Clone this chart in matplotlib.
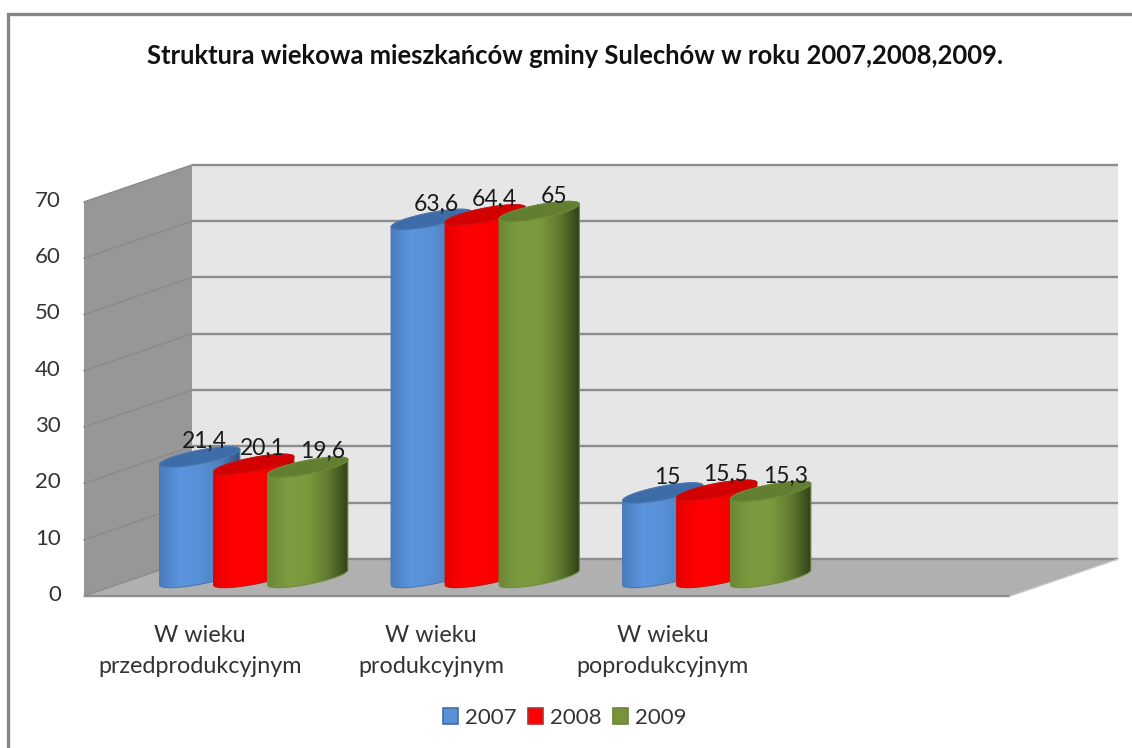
# -*- coding: utf-8 -*-
import numpy as np
import matplotlib
matplotlib.use('Agg')
import matplotlib.pyplot as plt
from matplotlib.patches import Polygon, Patch
from matplotlib.colors import LinearSegmentedColormap

plt.rcParams['font.family'] = ['Lato', 'DejaVu Sans']

title = 'Struktura wiekowa mieszkańców gminy Sulechów w roku 2007,2008,2009.'
categories = ['W wieku\nprzedprodukcyjnym', 'W wieku\nprodukcyjnym', 'W wieku\npoprodukcyjnym']
years = ['2007', '2008', '2009']
v2007 = [21.4, 63.6, 15]
v2008 = [20.1, 64.4, 15.5]
v2009 = [19.6, 65, 15.3]
yticks = [0, 10, 20, 30, 40, 50, 60, 70]
n_slots = 4   # excel left an empty 4th category

W, H = 1132, 748
# scale: pixels per category / per value, front plane
px_cat = 231.5
px_val = 5.63
x0_px = 199.75
y0_px = 596

fig = plt.figure(figsize=(W / 100, H / 100), dpi=100, facecolor='white')
ax = fig.add_axes([0, 0, 1, 1])
ax.set_xlim(-x0_px / px_cat, (W - x0_px) / px_cat)
ax.set_ylim((y0_px - H) / px_val, y0_px / px_val)
ax.axis('off')

# depth of the box, in data units
dep_x = 108 / px_cat
dep_y = 37 / px_val
left, right = -0.5, n_slots - 0.5
top = yticks[-1]
grid_c = '#8c8c8c'


def px_x(p):
    return p / px_cat


def px_y(p):
    return p / px_val


# frame of the chart
ax.plot([px_x(8) + ax.get_xlim()[0], px_x(8) + ax.get_xlim()[0], ax.get_xlim()[1]],
        [ax.get_ylim()[0], ax.get_ylim()[1] - px_y(14), ax.get_ylim()[1] - px_y(14)],
        color='#868686', lw=2.4, solid_joinstyle='miter', zorder=1)

# walls
ax.add_patch(Polygon([(left + dep_x, dep_y), (right + dep_x, dep_y),
                      (right + dep_x, top + dep_y), (left + dep_x, top + dep_y)],
                     fc='#e6e6e6', ec='none', zorder=1))
ax.add_patch(Polygon([(left, 0), (left + dep_x, dep_y), (left + dep_x, top + dep_y), (left, top)],
                     fc='#979797', ec='none', zorder=1))
ax.add_patch(Polygon([(left, 0), (left + dep_x, dep_y), (right + dep_x, dep_y), (right, 0)],
                     fc='#b0b0b0', ec='none', zorder=1))
for t in yticks:
    ax.plot([left + dep_x, right + dep_x], [t + dep_y, t + dep_y], color=grid_c, lw=1.7,
            solid_capstyle='butt', zorder=2)
    ax.plot([left, left + dep_x], [t, t + dep_y], color='#8a8a8a', lw=1.0, zorder=2)
    ax.text(px_x(61) + ax.get_xlim()[0], t + px_y(1), str(t), ha='right', va='center',
            fontsize=16, color='#333333', zorder=8)
ax.plot([left, right], [0, 0], color='#8f8f8f', lw=1.7, solid_capstyle='butt', zorder=2)
ax.plot([right, right + dep_x], [0, dep_y], color='#c4c4c4', lw=1, zorder=2)

# cylinders
bar_w = 54 / px_cat
bar_dep = 0.55
series = [v2007, v2008, v2009]
ramps = [['#4a7dbd', '#5c95de', '#5890d6', '#4f81bd', '#2c4f7c'],
         ['#e60000', '#ff0000', '#ff0000', '#f40000', '#9c0000'],
         ['#6b8836', '#7d9c40', '#7a993d', '#5f7a30', '#2e3f15']]
tops = ['#3d6ca8', '#d20000', '#627f31']
edges = ['#4a78b0', '#c81010', '#6f8b3a']
label_dx = [5, 9, 15]
t = np.linspace(0, 2 * np.pi, 121)

for s, vals in enumerate(series):
    cmap = LinearSegmentedColormap.from_list('c%d' % s, ramps[s])
    grad = np.linspace(0, 1, 256).reshape(1, -1)
    for c, v in enumerate(vals):
        cx = c + (s - 1) * bar_w + 0.5 * dep_x
        cy = 0.5 * dep_y
        ex = bar_w / 2 * np.cos(t) + bar_dep * dep_x / 2 * np.sin(t)
        ey = bar_dep * dep_y / 2 * np.sin(t)
        i_r = np.argmax(ex)
        i_l = np.argmin(ex)
        # lower half of the ellipse goes from left extreme to right extreme
        idx = np.arange(i_l, i_r + 121 if i_r < i_l else i_r + 1) % 121
        low_x, low_y = cx + ex[idx], cy + ey[idx]
        upper = np.arange(i_r, i_l + 1) if i_r < i_l else np.arange(i_r, i_l + 121) % 121
        up_x, up_y = cx + ex[upper], cy + v + ey[upper]
        body = Polygon(np.column_stack([np.r_[low_x, up_x], np.r_[low_y, up_y]]),
                       fc='none', ec=edges[s], lw=0.8, zorder=4 + s)
        ax.add_patch(body)
        im = ax.imshow(grad, cmap=cmap, aspect='auto', zorder=3.9 + s, interpolation='bilinear',
                       extent=[cx + ex.min(), cx + ex.max(), 0, cy + v + dep_y])
        im.set_clip_path(body)
        ax.add_patch(Polygon(np.column_stack([cx + ex, cy + v + ey]), fc=tops[s], ec=edges[s],
                             lw=0.8, zorder=4 + s))
        ax.text(cx + px_x(label_dx[s]), cy + v + px_y(15.5), str(v).replace('.', ','),
                ha='center', va='center', fontsize=16.5, color='#1a1a1a', zorder=9)

ax.set_xlim(-x0_px / px_cat, (W - x0_px) / px_cat)
ax.set_ylim((y0_px - H) / px_val, y0_px / px_val)

# category labels
for c, name in enumerate(categories):
    ax.text(c, -px_y(55), name, ha='center', va='center', fontsize=16.8, color='#333333',
            linespacing=1.6, zorder=8)

ax.text(px_x(575 - x0_px), px_y(y0_px - 56), title, ha='center', va='center', fontsize=18.45,
        fontweight='bold', color='#111111', zorder=8)

hand = [Patch(fc='#5a90d6', ec='#3f6ea6', lw=1.2),
        Patch(fc='#ff0000', ec='#b03030', lw=1.2),
        Patch(fc='#77933c', ec='#6b8636', lw=1.2)]
fig.legend(hand, years, loc='center', bbox_to_anchor=(564.5 / W, 1 - 718 / H), ncol=3, frameon=False,
           fontsize=16, handlelength=0.7, handleheight=0.7, handletextpad=0.3,
           columnspacing=0.5, labelcolor='#333333', borderpad=0)

fig.savefig('out.png', dpi=100)
